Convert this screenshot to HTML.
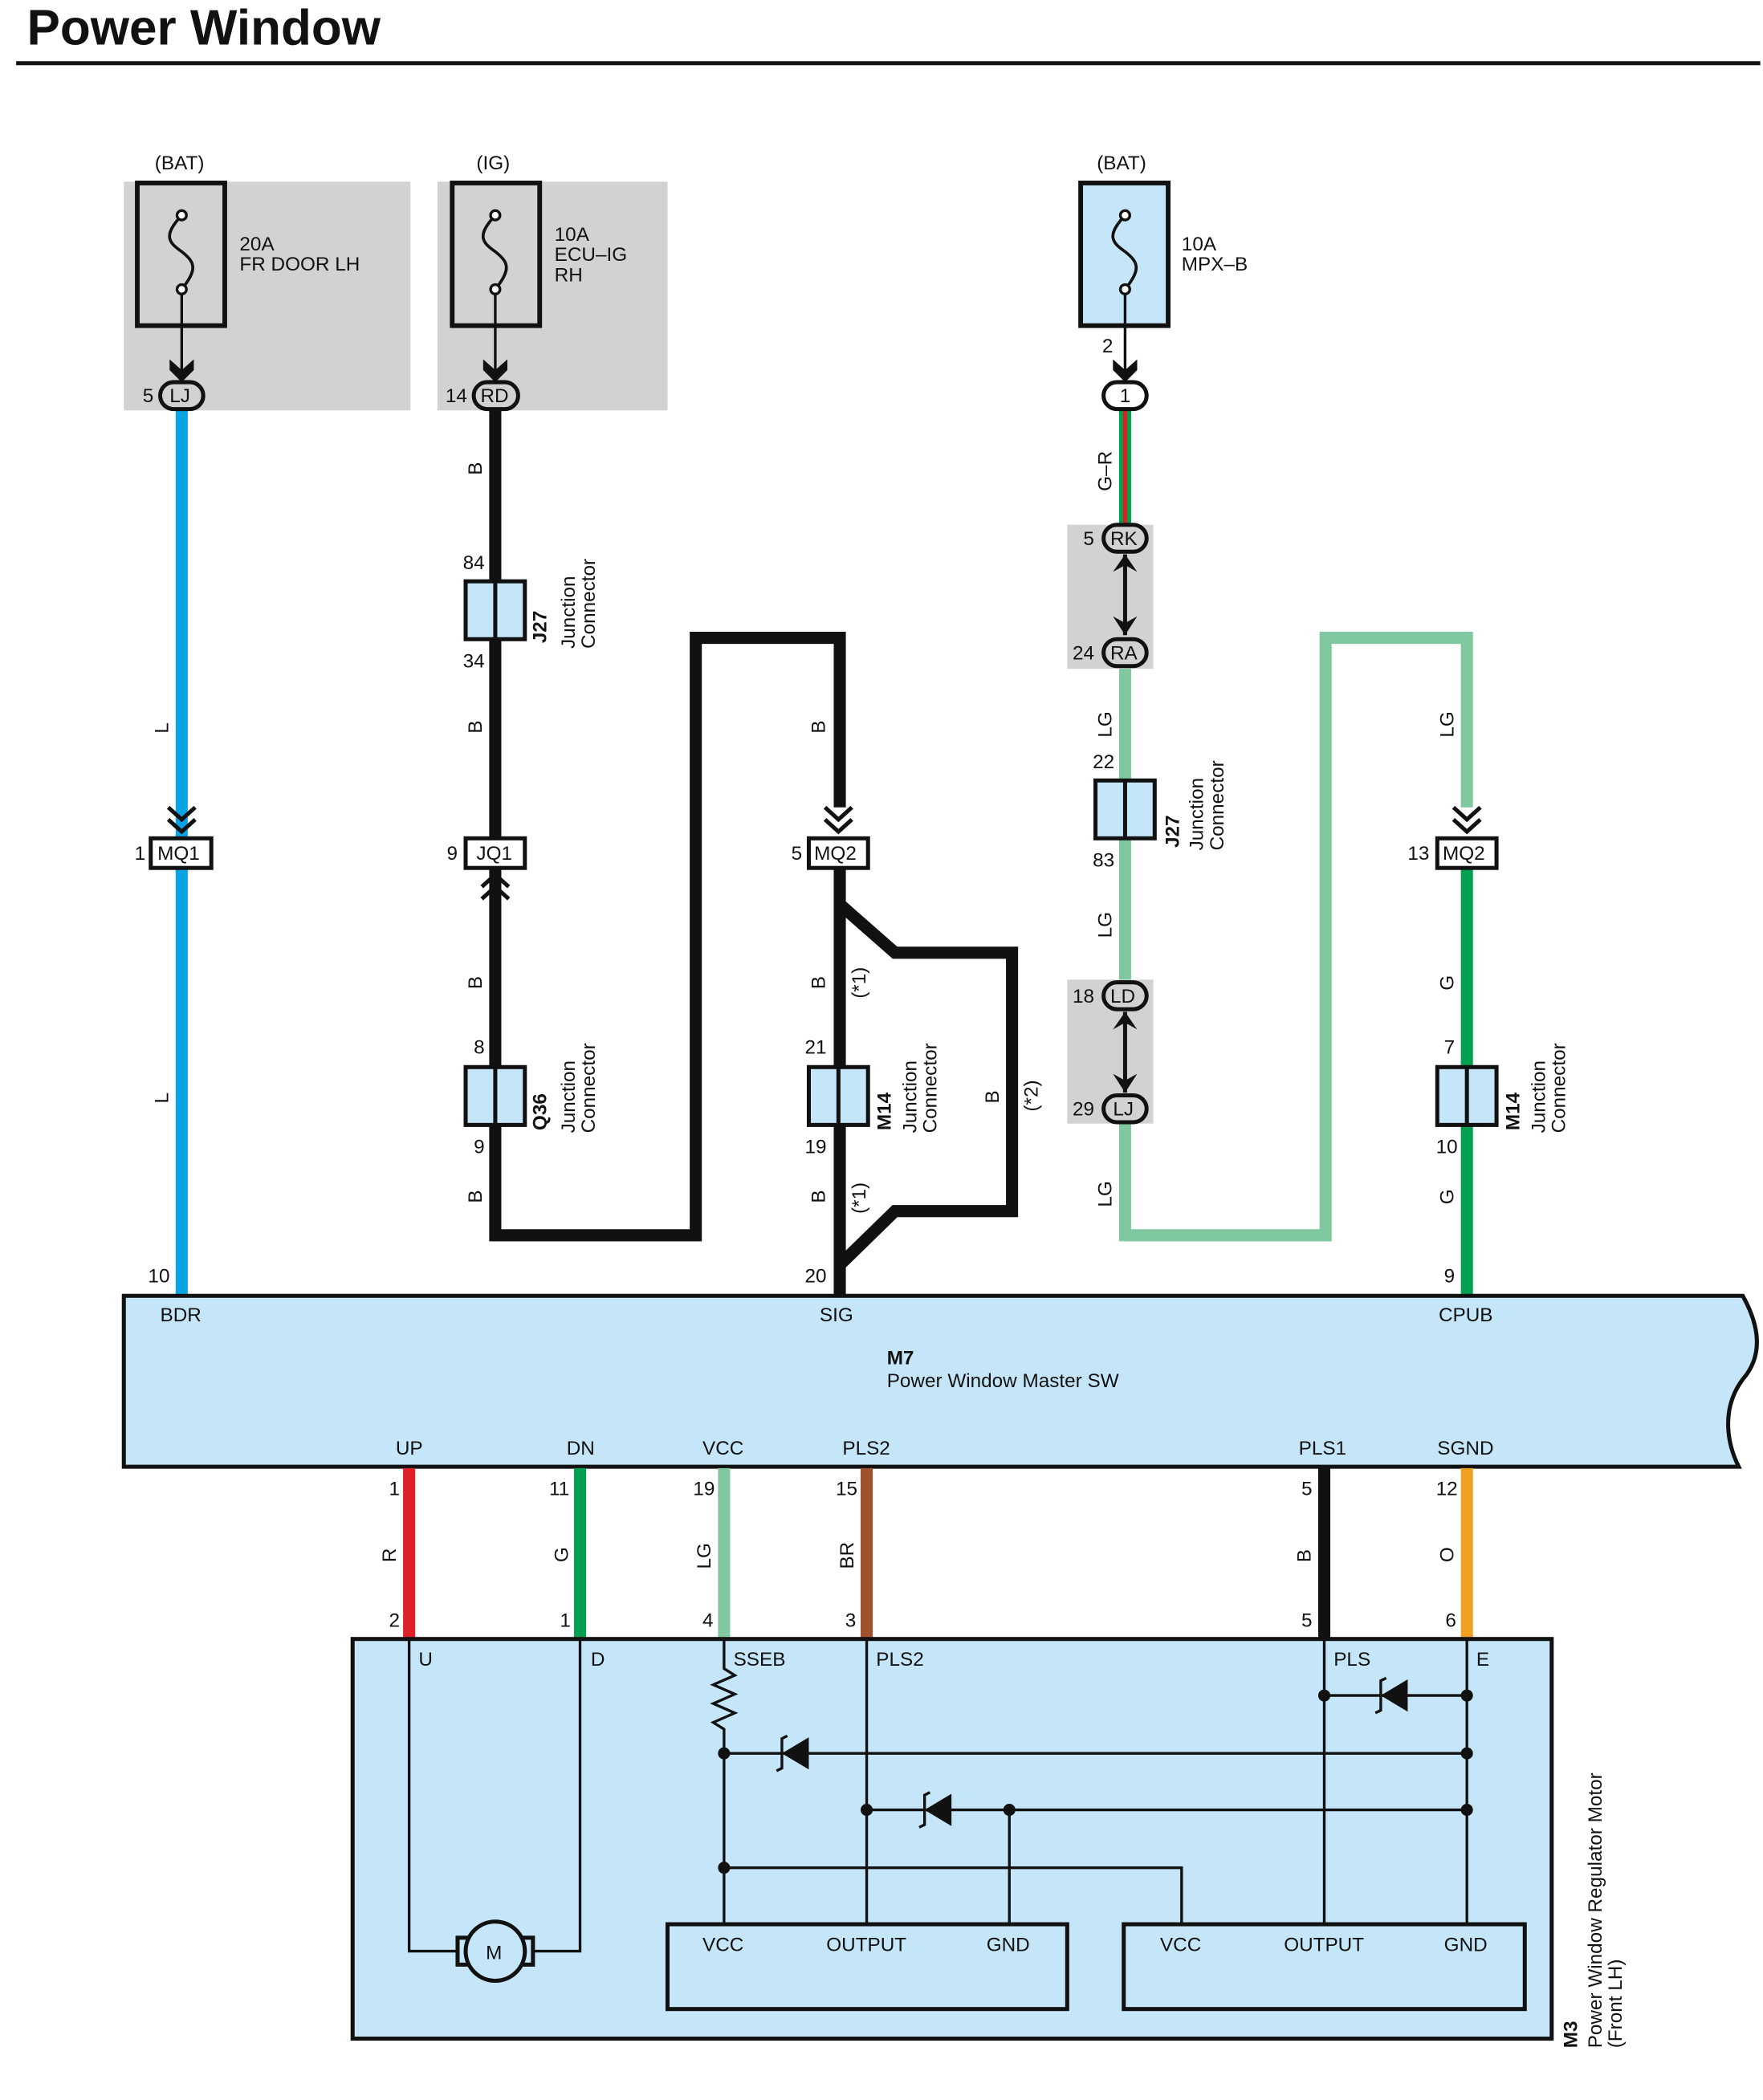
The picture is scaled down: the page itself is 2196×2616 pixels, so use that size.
<!DOCTYPE html>
<html><head><meta charset="utf-8"><style>
html,body{margin:0;padding:0;background:#fff}
svg{display:block}
text{font-family:"Liberation Sans",Arial,sans-serif;font-size:14.5px;fill:#111}
.b{font-weight:bold}
</style></head><body>
<svg width="2196" height="2616" viewBox="0 0 1310 1560.6" xmlns="http://www.w3.org/2000/svg">
<defs>
<g id="fuse">
<path d="M0,25 C-14,40 -10,45 0,52 C10,60 12,65 0,80" fill="none" stroke="#111" stroke-width="2.2"/>
<circle cx="0" cy="25" r="3.5" fill="#fff" stroke="#111" stroke-width="2"/>
<circle cx="0" cy="80" r="3.5" fill="#fff" stroke="#111" stroke-width="2"/>
</g>
<path id="arr" d="M-9,-10 L0,-2 L9,-10 L9,-2 L0,7 L-9,-2Z" fill="#111"/>
<g id="zen"><path d="M-11,0 L9,-12 L9,12Z" fill="#111"/><path d="M-7,-13 L-11,-11 L-11,11 L-15,13" fill="none" stroke="#111" stroke-width="2"/></g>
</defs>
<text x="20" y="33" class="b" style="font-size:37px">Power Window</text>
<line x1="12" y1="47" x2="1308" y2="47" stroke="#111" stroke-width="3"/>

<rect x="92" y="135" width="213" height="170" fill="#d0d2d4"/>
<rect x="102" y="136" width="65" height="106" fill="#d0d2d4" stroke="#111" stroke-width="3.5"/>
<use href="#fuse" x="135" y="135"/>
<text x="115" y="126">(BAT)</text>
<text x="178" y="186">20A</text><text x="178" y="201">FR DOOR LH</text>
<line x1="135" y1="218" x2="135" y2="275" stroke="#111" stroke-width="2"/>
<use href="#arr" x="135" y="277"/>

<rect x="325" y="135" width="171" height="170" fill="#d0d2d4"/>
<rect x="336" y="136" width="65" height="106" fill="#d0d2d4" stroke="#111" stroke-width="3.5"/>
<use href="#fuse" x="368" y="135"/>
<text x="354" y="126">(IG)</text>
<text x="412" y="179">10A</text><text x="412" y="194">ECU–IG</text><text x="412" y="209">RH</text>
<line x1="368" y1="218" x2="368" y2="275" stroke="#111" stroke-width="2"/>
<use href="#arr" x="368" y="277"/>

<rect x="803" y="136" width="65" height="106" fill="#c5e6f8" stroke="#111" stroke-width="3.5"/>
<use href="#fuse" x="836" y="135"/>
<text x="815" y="126">(BAT)</text>
<text x="878" y="186">10A</text><text x="878" y="201">MPX–B</text>
<text x="819" y="262">2</text>
<line x1="836" y1="218" x2="836" y2="275" stroke="#111" stroke-width="2"/>
<use href="#arr" x="836" y="277"/>

<rect x="793" y="390" width="64" height="107" fill="#d0d2d4"/>
<rect x="793" y="728" width="64" height="107" fill="#d0d2d4"/>

<line x1="135" y1="305" x2="135" y2="963" stroke="#0aa4e4" stroke-width="9"/>
<polyline points="368,305 368,918 517,918 517,474 624,474 624,600" fill="none" stroke="#111" stroke-width="9"/>
<line x1="624" y1="645" x2="624" y2="963" stroke="#111" stroke-width="9"/>
<polyline points="624,672 665,708 752,708 752,900 665,900 624,940" fill="none" stroke="#111" stroke-width="9" stroke-linejoin="miter"/>
<line x1="836" y1="305" x2="836" y2="390" stroke="#00a050" stroke-width="9"/>
<line x1="836" y1="305" x2="836" y2="390" stroke="#e02020" stroke-width="3"/>
<line x1="836" y1="412" x2="836" y2="472" stroke="#111" stroke-width="3"/>
<path d="M827,425 L836,412 L845,425 L836,420Z" fill="#111"/>
<path d="M827,458 L836,472 L845,458 L836,463Z" fill="#111"/>
<line x1="836" y1="752" x2="836" y2="812" stroke="#111" stroke-width="3"/>
<path d="M827,765 L836,752 L845,765 L836,760Z" fill="#111"/>
<path d="M827,798 L836,812 L845,798 L836,803Z" fill="#111"/>
<line x1="836" y1="497" x2="836" y2="728" stroke="#80c8a0" stroke-width="9"/>
<polyline points="836,835 836,918 985,918 985,474 1090,474 1090,600" fill="none" stroke="#80c8a0" stroke-width="9"/>
<line x1="1090" y1="645" x2="1090" y2="963" stroke="#00a050" stroke-width="9"/>

<g fill="none" stroke="#111" stroke-width="3">
<polyline points="125,600 135,609 145,600"/><polyline points="125,609 135,618 145,609"/>
<polyline points="613,600 623,609 633,600"/><polyline points="613,609 623,618 633,609"/>
<polyline points="1080,600 1090,609 1100,600"/><polyline points="1080,609 1090,618 1100,609"/>
<polyline points="358,659 368,650 378,659"/><polyline points="358,668 368,659 378,668"/>
</g>

<g fill="#d0d2d4" stroke="#111" stroke-width="3">
<rect x="119" y="284" width="32" height="20" rx="10"/>
<rect x="352" y="284" width="33" height="20" rx="10"/>
<rect x="820" y="284" width="32" height="20" rx="10" fill="#fff"/>
<rect x="820" y="390" width="32" height="20" rx="10"/>
<rect x="820" y="475" width="32" height="20" rx="10"/>
<rect x="820" y="730" width="32" height="20" rx="10"/>
<rect x="820" y="814" width="32" height="20" rx="10"/>
</g>
<text x="126" y="299">LJ</text><text x="106" y="299">5</text>
<text x="357" y="299">RD</text><text x="331" y="299">14</text>
<text x="832" y="299">1</text>
<text x="825" y="405">RK</text><text x="805" y="405">5</text>
<text x="825" y="490">RA</text><text x="797" y="490">24</text>
<text x="825" y="745">LD</text><text x="797" y="745">18</text>
<text x="827" y="829">LJ</text><text x="797" y="829">29</text>

<g fill="#fff" stroke="#111" stroke-width="3">
<rect x="112" y="623" width="45" height="22"/>
<rect x="346" y="623" width="44" height="22"/>
<rect x="601" y="623" width="44" height="22"/>
<rect x="1068" y="623" width="44" height="22"/>
</g>
<text x="117" y="639">MQ1</text><text x="100" y="639">1</text>
<text x="354" y="639">JQ1</text><text x="332" y="639">9</text>
<text x="605" y="639">MQ2</text><text x="588" y="639">5</text>
<text x="1072" y="639">MQ2</text><text x="1046" y="639">13</text>

<g fill="#c5e6f8" stroke="#111" stroke-width="3">
<rect x="346" y="432" width="44" height="43"/><line x1="368" y1="432" x2="368" y2="475"/>
<rect x="346" y="793" width="44" height="43"/><line x1="368" y1="793" x2="368" y2="836"/>
<rect x="601" y="793" width="44" height="43"/><line x1="623" y1="793" x2="623" y2="836"/>
<rect x="814" y="580" width="44" height="43"/><line x1="836" y1="580" x2="836" y2="623"/>
<rect x="1068" y="793" width="44" height="43"/><line x1="1090" y1="793" x2="1090" y2="836"/>
</g>
<text x="344" y="423">84</text><text x="344" y="496">34</text>
<text x="352" y="783">8</text><text x="352" y="857">9</text>
<text x="598" y="783">21</text><text x="598" y="857">19</text>
<text x="812" y="571">22</text><text x="812" y="644">83</text>
<text x="1073" y="783">7</text><text x="1067" y="857">10</text>
<text x="110" y="953">10</text><text x="598" y="953">20</text><text x="1073" y="953">9</text>

<g>
<text transform="translate(406,478) rotate(-90)" class="b">J27</text>
<text transform="translate(427,482) rotate(-90)">Junction</text>
<text transform="translate(442,482) rotate(-90)">Connector</text>
<text transform="translate(406,840) rotate(-90)" class="b">Q36</text>
<text transform="translate(427,842) rotate(-90)">Junction</text>
<text transform="translate(442,842) rotate(-90)">Connector</text>
<text transform="translate(662,840) rotate(-90)" class="b">M14</text>
<text transform="translate(681,842) rotate(-90)">Junction</text>
<text transform="translate(696,842) rotate(-90)">Connector</text>
<text transform="translate(876,630) rotate(-90)" class="b">J27</text>
<text transform="translate(894,632) rotate(-90)">Junction</text>
<text transform="translate(909,632) rotate(-90)">Connector</text>
<text transform="translate(1129,840) rotate(-90)" class="b">M14</text>
<text transform="translate(1148,842) rotate(-90)">Junction</text>
<text transform="translate(1163,842) rotate(-90)">Connector</text>
<text transform="translate(125,545) rotate(-90)">L</text>
<text transform="translate(125,820) rotate(-90)">L</text>
<text transform="translate(358,353) rotate(-90)">B</text>
<text transform="translate(358,545) rotate(-90)">B</text>
<text transform="translate(358,735) rotate(-90)">B</text>
<text transform="translate(358,894) rotate(-90)">B</text>
<text transform="translate(613,545) rotate(-90)">B</text>
<text transform="translate(613,735) rotate(-90)">B</text>
<text transform="translate(613,894) rotate(-90)">B</text>
<text transform="translate(742,820) rotate(-90)">B</text>
<text transform="translate(643,742) rotate(-90)">(*1)</text>
<text transform="translate(643,902) rotate(-90)">(*1)</text>
<text transform="translate(771,826) rotate(-90)">(*2)</text>
<text transform="translate(826,365) rotate(-90)">G–R</text>
<text transform="translate(826,548) rotate(-90)">LG</text>
<text transform="translate(826,697) rotate(-90)">LG</text>
<text transform="translate(826,897) rotate(-90)">LG</text>
<text transform="translate(1080,548) rotate(-90)">LG</text>
<text transform="translate(1080,736) rotate(-90)">G</text>
<text transform="translate(1080,895) rotate(-90)">G</text>
<text transform="translate(294,1161) rotate(-90)">R</text>
<text transform="translate(422,1161) rotate(-90)">G</text>
<text transform="translate(528,1166) rotate(-90)">LG</text>
<text transform="translate(634,1166) rotate(-90)">BR</text>
<text transform="translate(974,1161) rotate(-90)">B</text>
<text transform="translate(1080,1161) rotate(-90)">O</text>
<text transform="translate(1172,1522) rotate(-90)" class="b">M3</text>
<text transform="translate(1190,1522) rotate(-90)">Power Window Regulator Motor</text>
<text transform="translate(1205,1522) rotate(-90)">(Front LH)</text>
</g>

<path d="M92,963 L1295,963 C1310,990 1308,1010 1295,1025 C1280,1045 1282,1070 1292,1090 L92,1090Z" fill="#c5e6f8" stroke="#111" stroke-width="3"/>
<text x="119" y="982">BDR</text><text x="609" y="982">SIG</text><text x="1069" y="982">CPUB</text>
<text x="659" y="1014" class="b">M7</text>
<text x="659" y="1031">Power Window Master SW</text>
<text x="294" y="1081">UP</text><text x="421" y="1081">DN</text><text x="522" y="1081">VCC</text>
<text x="626" y="1081">PLS2</text><text x="965" y="1081">PLS1</text><text x="1068" y="1081">SGND</text>

<g stroke-width="9">
<line x1="304" y1="1091" x2="304" y2="1218" stroke="#e02028"/>
<line x1="431" y1="1091" x2="431" y2="1218" stroke="#00a050"/>
<line x1="538" y1="1091" x2="538" y2="1218" stroke="#80c8a0"/>
<line x1="644" y1="1091" x2="644" y2="1218" stroke="#a0522d"/>
<line x1="984" y1="1091" x2="984" y2="1218" stroke="#111"/>
<line x1="1090" y1="1091" x2="1090" y2="1218" stroke="#f0a020"/>
</g>
<text x="289" y="1111">1</text><text x="408" y="1111">11</text><text x="515" y="1111">19</text>
<text x="621" y="1111">15</text><text x="967" y="1111">5</text><text x="1067" y="1111">12</text>
<text x="289" y="1209">2</text><text x="416" y="1209">1</text><text x="522" y="1209">4</text>
<text x="628" y="1209">3</text><text x="967" y="1209">5</text><text x="1074" y="1209">6</text>

<rect x="262" y="1218" width="891" height="297" fill="#c5e6f8" stroke="#111" stroke-width="3"/>
<text x="311" y="1238">U</text><text x="439" y="1238">D</text><text x="545" y="1238">SSEB</text>
<text x="651" y="1238">PLS2</text><text x="991" y="1238">PLS</text><text x="1097" y="1238">E</text>
<g fill="none" stroke="#111" stroke-width="2">
<polyline points="304,1218 304,1450 345,1450"/>
<polyline points="431,1218 431,1450 392,1450"/>
<polyline points="538,1218 538,1240 546,1245 530,1252 546,1259 530,1266 546,1273 530,1280 538,1285 538,1430"/>
<line x1="538" y1="1303" x2="1090" y2="1303"/>
<polyline points="538,1388 878,1388 878,1430"/>
<line x1="644" y1="1218" x2="644" y2="1430"/>
<line x1="644" y1="1345" x2="1090" y2="1345"/>
<line x1="750" y1="1345" x2="750" y2="1430"/>
<line x1="984" y1="1218" x2="984" y2="1430"/>
<line x1="984" y1="1260" x2="1090" y2="1260"/>
<line x1="1090" y1="1218" x2="1090" y2="1430"/>
</g>
<use href="#zen" x="592" y="1303"/>
<use href="#zen" x="698" y="1345"/>
<use href="#zen" x="1037" y="1260"/>
<g fill="#111">
<circle cx="538" cy="1303" r="4.5"/><circle cx="538" cy="1388" r="4.5"/>
<circle cx="644" cy="1345" r="4.5"/><circle cx="750" cy="1345" r="4.5"/>
<circle cx="984" cy="1260" r="4.5"/><circle cx="1090" cy="1260" r="4.5"/>
<circle cx="1090" cy="1303" r="4.5"/><circle cx="1090" cy="1345" r="4.5"/>
</g>
<rect x="340" y="1440" width="56" height="20" fill="#c5e6f8" stroke="#111" stroke-width="3"/>
<circle cx="368" cy="1450" r="22" fill="#c5e6f8" stroke="#111" stroke-width="3"/>
<text x="361" y="1456">M</text>
<rect x="496" y="1430" width="297" height="63" fill="#c5e6f8" stroke="#111" stroke-width="3"/>
<rect x="835" y="1430" width="298" height="63" fill="#c5e6f8" stroke="#111" stroke-width="3"/>
<text x="522" y="1450">VCC</text><text x="614" y="1450">OUTPUT</text><text x="733" y="1450">GND</text>
<text x="862" y="1450">VCC</text><text x="954" y="1450">OUTPUT</text><text x="1073" y="1450">GND</text>
</svg>
</body></html>
